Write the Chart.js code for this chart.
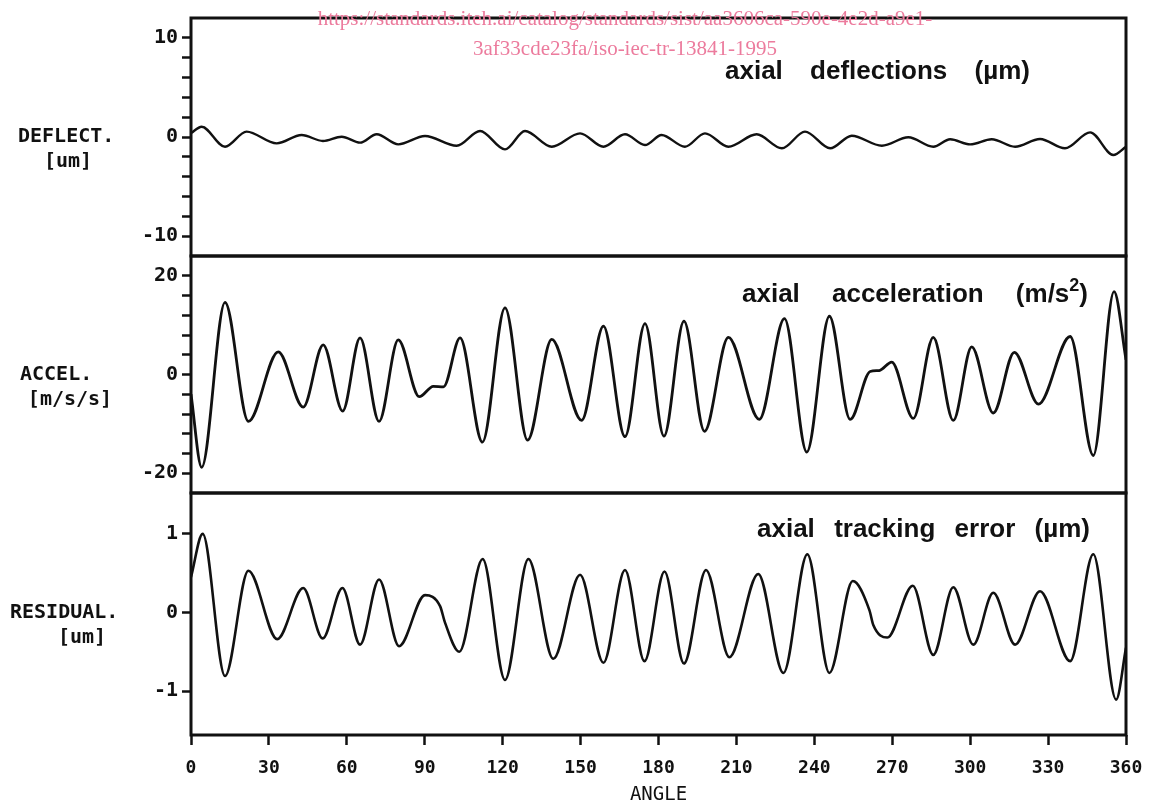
<!DOCTYPE html>
<html>
<head>
<meta charset="utf-8">
<title>axial deflection / acceleration / tracking error</title>
<script src="https://cdn.jsdelivr.net/npm/chart.js@4.4.1/dist/chart.umd.min.js"></script>
<style>
  html, body { margin: 0; padding: 0; background: #fff; }
  #wrap { width: 1151px; height: 806px; }
</style>
</head>
<body>
<div id="wrap"><canvas id="plot" width="1151" height="806"></canvas></div>
<script>
// ---- data (peaks / troughs, degrees) ----
const angleTicks = [0, 30, 60, 90, 120, 150, 180, 210, 240, 270, 300, 330, 360];

const deflAngles = [0, 4.1, 13.1, 21.4, 33.0, 42.6, 50.8, 58.0, 65.1, 71.5,
  79.8, 90.1, 102.3, 111.3, 120.9, 128.6, 138.9, 149.8, 158.8, 167.1,
  174.8, 181.2, 190.2, 197.9, 206.9, 217.8, 227.5, 236.4, 246.1, 254.4,
  266.0, 276.2, 285.8, 292.3, 300.0, 308.3, 317.3, 326.9, 336.5, 346.2,
  355.1, 360];
const deflValues = [0.4, 1.04, -0.98, 0.54, -0.64, 0.20, -0.40, 0.03, -0.57, 0.27,
  -0.74, 0.10, -0.88, 0.61, -1.25, 0.61, -0.98, 0.37, -0.98, 0.27,
  -0.81, 0.20, -0.98, 0.37, -0.98, 0.27, -1.14, 0.54, -1.14, 0.13,
  -0.88, -0.03, -0.98, -0.23, -0.74, -0.23, -0.98, -0.20, -1.14, 0.47,
  -1.82, -0.98];

const accelAngles = [0, 4.1, 13.1, 22.1, 33.6, 43.2, 50.9, 58.4, 65.1, 72.4,
  79.8, 87.9, 93.3, 97.2, 103.6, 112.2, 120.9, 129.6, 138.9, 150.4,
  158.8, 167.1, 174.8, 182.1, 189.8, 197.7, 206.9, 218.8, 228.5, 237.1,
  245.8, 253.8, 261.5, 265.0, 269.8, 278.1, 285.8, 293.5, 300.6, 308.9,
  317.0, 326.3, 338.5, 347.4, 355.4, 360];
const accelValues = [-4, -18.8, 14.6, -9.5, 4.6, -6.6, 6.0, -7.4, 7.4, -9.5,
  7.0, -4.5, -2.4, -2.5, 7.4, -13.7, 13.5, -13.3, 7.1, -9.3,
  9.8, -12.6, 10.3, -12.5, 10.8, -11.5, 7.5, -9.1, 11.3, -15.7,
  11.8, -9.1, 0.6, 0.8, 2.5, -8.9, 7.5, -9.3, 5.6, -7.8,
  4.5, -6.0, 7.7, -16.4, 16.8, 3];

const resAngles = [0, 4.5, 13.1, 22.1, 33.2, 43.2, 50.7, 58.3, 65.1, 72.4,
  80.1, 90.1, 95.9, 97.8, 103.3, 112.3, 120.9, 129.9, 139.5, 149.8,
  158.8, 167.1, 174.6, 182.3, 189.8, 198.3, 207.3, 218.4, 228.1, 237.3,
  245.8, 254.8, 261.2, 262.7, 268.1, 277.9, 285.8, 293.5, 301.2, 308.9,
  317.3, 326.9, 338.5, 347.4, 356.2, 360];
const resValues = [0.45, 1.0, -0.81, 0.53, -0.34, 0.31, -0.33, 0.31, -0.41, 0.42,
  -0.43, 0.22, 0.08, -0.13, -0.5, 0.68, -0.86, 0.68, -0.59, 0.48,
  -0.64, 0.54, -0.62, 0.52, -0.65, 0.54, -0.57, 0.49, -0.77, 0.74,
  -0.77, 0.40, 0.03, -0.16, -0.32, 0.34, -0.54, 0.32, -0.41, 0.25,
  -0.41, 0.27, -0.62, 0.74, -1.11, -0.45];

const deflTickLabels = [-10, 0, 10];
const accelTickLabels = [-20, 0, 20];
const resTickLabels = [-1, 0, 1];

const sideLabels = {
  yD: ["DEFLECT.", "[um]"],
  yA: ["ACCEL.", "[m/s/s]"],
  yR: ["RESIDUAL.", "[um]"],
};
const panelTitles = {
  yD: "axial deflections (µm)",
  yA: "axial acceleration (m/s^2)",
  yR: "axial tracking error (µm)",
};
const sourceNote = [
  "https://standards.iteh.ai/catalog/standards/sist/aa3606ca-590e-4e2d-a9e1-",
  "3af33cde23fa/iso-iec-tr-13841-1995",
];

// ---- helpers ----
const MONO = "'DejaVu Sans Mono', monospace";
const SANS = "'Liberation Sans', Arial, sans-serif";
const INK = "#111";

function pairs(xs, ys) {
  return xs.map((x, i) => ({ x: x, y: ys[i] }));
}

function minorTicks(step, lim) {
  return function (scale) {
    const out = [];
    for (let v = -lim; v <= lim + 1e-9; v += step) out.push({ value: v });
    scale.ticks = out;
  };
}

function lineSet(label, xs, ys, axis, width) {
  return {
    label: label,
    data: pairs(xs, ys),
    yAxisID: axis,
    borderColor: INK,
    borderWidth: width,
    pointRadius: 0,
    cubicInterpolationMode: "monotone",
    fill: false,
  };
}

function yAxis(min, max, weight, labels, build) {
  return {
    type: "linear",
    position: "left",
    stack: "panels",
    stackWeight: weight,
    min: min,
    max: max,
    afterBuildTicks: build,
    afterFit: (s) => { s.width = 191; },
    border: { display: false },
    grid: {
      drawOnChartArea: false,
      drawTicks: true,
      tickLength: 9,
      tickWidth: 2.5,
      tickColor: INK,
    },
    ticks: {
      color: INK,
      padding: 4,
      autoSkip: false,
      font: { family: MONO, size: 20, weight: "bold" },
      callback: (v) => (labels.includes(v) ? String(v) : ""),
    },
  };
}

// title words spread between left/right, "^2" becomes a superscript
function drawSpread(ctx, text, left, right, baseline, size) {
  const words = text.split(" ").map((w) => {
    const m = w.split("^");
    const parts = [{ t: m[0], sup: false }];
    if (m.length > 1) {
      parts.push({ t: m[1][0], sup: true });
      parts.push({ t: m[1].slice(1), sup: false });
    }
    return parts;
  });
  const fontOf = (sup) => "bold " + Math.round(sup ? size * 0.68 : size) + "px " + SANS;
  const widthOf = (parts) => parts.reduce((w, p) => {
    ctx.font = fontOf(p.sup);
    return w + ctx.measureText(p.t).width;
  }, 0);
  const widths = words.map(widthOf);
  const total = widths.reduce((a, b) => a + b, 0);
  const gap = words.length > 1 ? (right - left - total) / (words.length - 1) : 0;
  let x = left;
  ctx.textAlign = "left";
  ctx.textBaseline = "alphabetic";
  words.forEach((parts) => {
    parts.forEach((p) => {
      ctx.font = fontOf(p.sup);
      ctx.fillText(p.t, x, p.sup ? baseline - size * 0.42 : baseline);
      x += ctx.measureText(p.t).width;
    });
    x += gap;
  });
}

const panelDecor = {
  id: "panelDecor",
  afterDraw(chart) {
    const ctx = chart.ctx;
    const area = chart.chartArea;
    ctx.save();

    // panel frames
    ctx.strokeStyle = INK;
    ctx.lineWidth = 3;
    ["yD", "yA", "yR"].forEach((id) => {
      const s = chart.scales[id];
      ctx.strokeRect(area.left, s.top, area.right - area.left, s.bottom - s.top);
    });

    // left side labels
    ctx.fillStyle = INK;
    const side = { yD: [18, 68], yA: [20, 70], yR: [10, 82] };
    Object.keys(sideLabels).forEach((id) => {
      const y0 = chart.scales[id].getPixelForValue(0);
      ctx.font = "bold 20px " + MONO;
      ctx.textBaseline = "middle";
      ctx.textAlign = "left";
      ctx.fillText(sideLabels[id][0], side[id][0], y0);
      ctx.textAlign = "center";
      ctx.fillText(sideLabels[id][1], side[id][1], y0 + 25);
    });

    // panel titles
    const place = { yD: [725, 1030, 61], yA: [742, 1088, 46], yR: [757, 1090, 44] };
    Object.keys(panelTitles).forEach((id) => {
      const p = place[id];
      drawSpread(ctx, panelTitles[id], p[0], p[1], chart.scales[id].top + p[2], 26);
    });

    // pink source stamp on top
    ctx.fillStyle = "#ec7b9d";
    ctx.font = "21px 'Liberation Serif', serif";
    ctx.textAlign = "center";
    ctx.textBaseline = "alphabetic";
    ctx.fillText(sourceNote[0], 625, 25);
    ctx.fillText(sourceNote[1], 625, 55);
    ctx.restore();
  },
};

new Chart(document.getElementById("plot"), {
  type: "line",
  data: {
    datasets: [
      lineSet("deflection", deflAngles, deflValues, "yD", 2.4),
      lineSet("acceleration", accelAngles, accelValues, "yA", 2.8),
      lineSet("residual", resAngles, resValues, "yR", 2.6),
    ],
  },
  options: {
    responsive: false,
    animation: false,
    events: [],
    layout: { padding: { top: 18, right: 25, bottom: 0, left: 0 } },
    plugins: { legend: { display: false }, tooltip: { enabled: false } },
    scales: {
      x: {
        type: "linear",
        position: "bottom",
        min: 0,
        max: 360,
        afterBuildTicks: (s) => { s.ticks = angleTicks.map((v) => ({ value: v })); },
        afterFit: (s) => { s.height = 71; s.paddingLeft = 0; s.paddingRight = 0; },
        border: { display: false },
        grid: {
          drawOnChartArea: false,
          drawTicks: true,
          tickLength: 10,
          tickWidth: 2.5,
          tickColor: INK,
        },
        ticks: {
          color: INK,
          padding: 13,
          maxRotation: 0,
          autoSkip: false,
          font: { family: MONO, size: 18, weight: "bold" },
        },
        title: {
          display: true,
          text: "ANGLE",
          color: INK,
          padding: 0,
          font: { family: MONO, size: 19 },
        },
      },
      // declared bottom-first: stacked left axes are laid out in reverse order
      yR: yAxis(-1.56, 1.52, 242, resTickLabels, (s) => {
        s.ticks = resTickLabels.map((v) => ({ value: v }));
      }),
      yA: yAxis(-24, 24, 237, accelTickLabels, minorTicks(4, 20)),
      yD: yAxis(-12, 12, 238, deflTickLabels, minorTicks(2, 10)),
    },
  },
  plugins: [panelDecor],
});
</script>
</body>
</html>
